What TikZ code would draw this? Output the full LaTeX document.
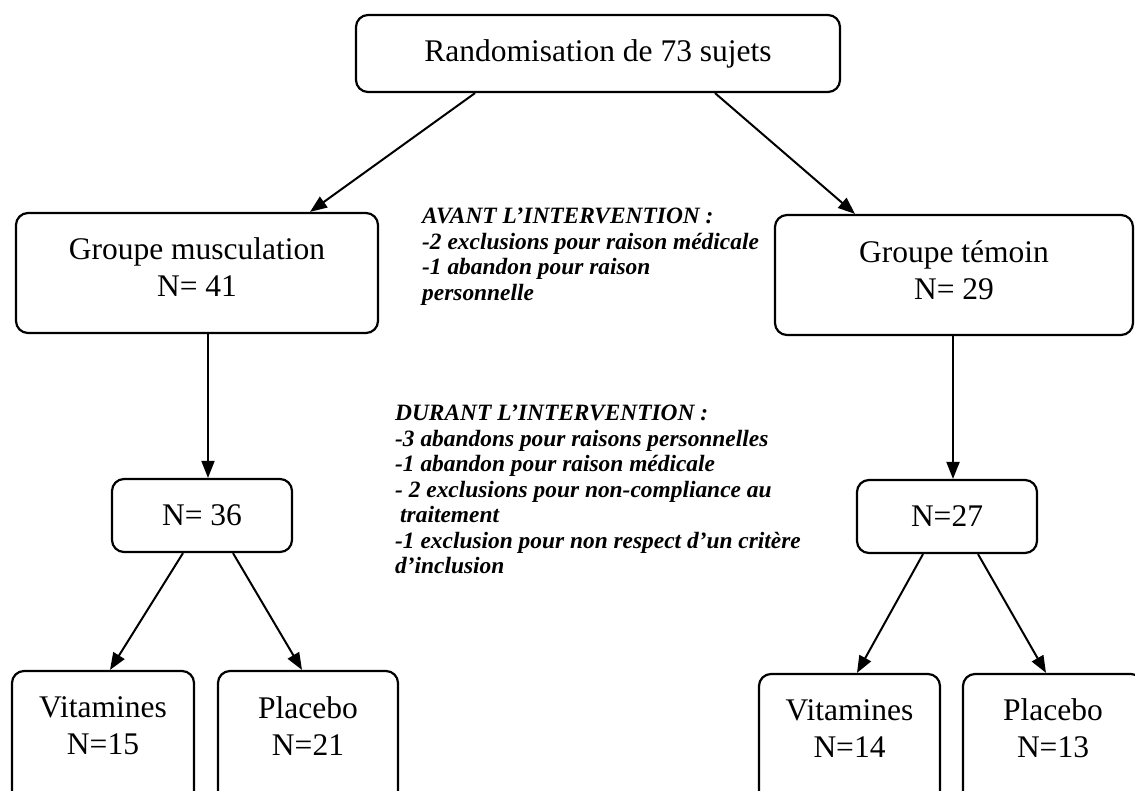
\documentclass[tikz,border=0pt]{standalone}
\usepackage{fontspec}
\setmainfont{Liberation Serif}
\usetikzlibrary{arrows.meta}
\begin{document}
\begin{tikzpicture}[x=1pt,y=-1pt,
  box/.style={draw, line width=2.2pt, rounded corners=12pt, inner sep=0pt},
  lbl/.style={font=\fontsize{31.5}{37}\selectfont, align=center, inner sep=0pt},
  note/.style={font=\fontsize{23.4}{25.5}\selectfont\bfseries\itshape, align=left, inner sep=0pt, anchor=north west},
  arr/.style={line width=2pt, -{Triangle[length=17pt,width=13pt]}}]
\useasboundingbox (0,0) rectangle (1135,790);
\clip (0,0) rectangle (1135,790);
% boxes
\node[box, lbl, minimum width=484pt, minimum height=77pt] (top) at (598,53.5) {Randomisation de 73 sujets};
\node[box, minimum width=362pt, minimum height=120pt] (musc) at (197,273) {};
\node[lbl] (musct) at (197,267.5) {Groupe musculation\\N= 41};
\node[box, minimum width=358pt, minimum height=120pt] (tem) at (954,275) {};
\node[lbl] (temt) at (954,270.5) {Groupe témoin\\N= 29};
\node[box, lbl, minimum width=180pt, minimum height=73pt] (n36) at (202,515.5) {N= 36};
\node[box, lbl, minimum width=180pt, minimum height=73pt] (n27) at (947,516.5) {N=27};
\node[box, minimum width=182pt, minimum height=139pt] (vitL) at (103,740.5) {};
\node[lbl] (vitLt) at (103,726) {Vitamines\\N=15};
\node[box, minimum width=180pt, minimum height=139pt] (placL) at (308,740.5) {};
\node[lbl] (placLt) at (308,726) {Placebo\\N=21};
\node[box, minimum width=181pt, minimum height=136pt] (vitR) at (849.5,742) {};
\node[lbl] (vitRt) at (849.5,728.5) {Vitamines\\N=14};
\node[box, minimum width=180pt, minimum height=136pt] (placR) at (1053,742) {};
\node[lbl] (placRt) at (1053,728.5) {Placebo\\N=13};
% notes
\node[note] (avant) at (422,208) {AVANT L’INTERVENTION :\\-2 exclusions pour raison médicale\\-1 abandon pour raison\\personnelle};
\node[note] (durant) at (395,405) {DURANT L’INTERVENTION :\\-3 abandons pour raisons personnelles\\-1 abandon pour raison médicale\\- 2 exclusions pour non-compliance au\\\hspace*{5pt}traitement\\-1 exclusion pour non respect d’un critère\\d’inclusion};
% arrows
\draw[arr] ([xshift=-123pt]top.south) -- ([xshift=113pt]musc.north);
\draw[arr] ([xshift=117pt]top.south) -- ([xshift=-99pt]tem.north);
\draw[arr] ([xshift=11pt]musc.south) -- ([xshift=6pt]n36.north);
\draw[arr] ([xshift=-1pt]tem.south) -- ([xshift=6pt]n27.north);
\draw[arr] ([xshift=-19pt]n36.south) -- ([xshift=7pt]vitL.north);
\draw[arr] ([xshift=31pt]n36.south) -- ([xshift=-6pt]placL.north);
\draw[arr] ([xshift=-24pt]n27.south) -- ([xshift=7.5pt]vitR.north);
\draw[arr] ([xshift=31pt]n27.south) -- ([xshift=-7pt]placR.north);
\end{tikzpicture}
\end{document}
